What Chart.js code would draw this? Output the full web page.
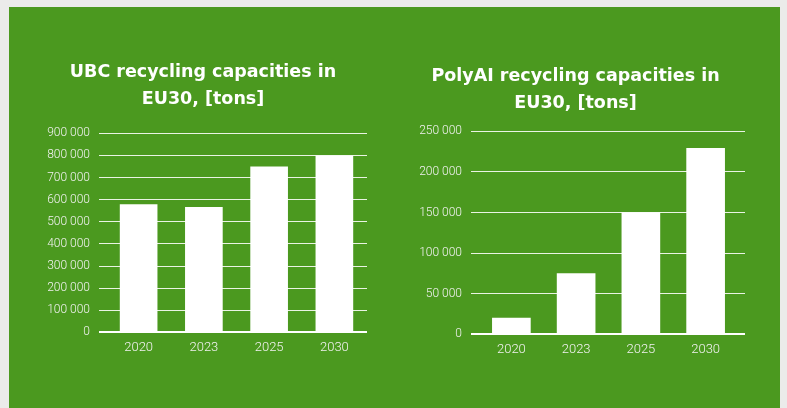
<!DOCTYPE html>
<html>
<head>
<meta charset="utf-8">
<script src="https://cdn.jsdelivr.net/npm/chart.js@4.4.0/dist/chart.umd.min.js"></script>
<style>
  html, body { margin: 0; padding: 0; }
  body { width: 787px; height: 408px; background: #ebebea; position: relative; overflow: hidden; }
  .panel { position: absolute; left: 9px; top: 7px; width: 771px; height: 401px; background: #4b991f; }
  .box { position: absolute; top: 0; height: 408px; }
  #left { left: 0; width: 400px; }
  #right { left: 400px; width: 387px; }
</style>
</head>
<body>
<div class="panel"></div>
<div class="box" id="left"><canvas id="ubc"></canvas></div>
<div class="box" id="right"><canvas id="poly"></canvas></div>
<script>
// data
const years = ['2020', '2023', '2025', '2030'];
const ubcValues = [578000, 565000, 748000, 798000];
const polyValues = [20000, 75000, 150000, 229000];
const ubcTitle = ['UBC recycling capacities in', 'EU30, [tons]'];
const polyTitle = ['PolyAI recycling capacities in', 'EU30, [tons]'];

const WHITE = '#ffffff';
const GRID = 'rgba(255,255,255,0.88)';

// 900000 -> "900 000"
const fmt = v => String(v).replace(/\B(?=(\d{3})+(?!\d))/g, ' ');

const gridLine = {
    color: ctx => ctx.tick && ctx.tick.value === 0 ? WHITE : GRID,
    lineWidth: ctx => ctx.tick && ctx.tick.value === 0 ? 2 : 1
};

function makeChart(id, title, values, o) {
    const scales = {
        x: {
            grid: { display: false, drawTicks: false },
            border: { display: false },
            ticks: { color: '#f2f2f2', padding: 8, font: { family: 'Roboto', size: 13, weight: 300 } }
        },
        y: {
            min: 0, max: o.max,
            afterFit: s => { s.width = o.axisW; },
            grid: Object.assign({ drawTicks: true, tickLength: o.tickL }, gridLine),
            border: { display: false },
            ticks: {
                stepSize: o.step, padding: o.tickPad, color: '#f2f2f2',
                font: { family: 'Roboto', size: 12, weight: 300 },
                callback: v => fmt(v)
            }
        }
    };
    // short tick marks on the right side, so the grid runs past the last bar
    if (o.tickR) {
        scales.y2 = {
            position: 'right', min: 0, max: o.max,
            afterFit: s => { s.width = o.tickR; },
            grid: Object.assign({ drawOnChartArea: false, drawTicks: true, tickLength: o.tickR }, gridLine),
            border: { display: false },
            ticks: { display: false, stepSize: o.step }
        };
    }
    return new Chart(document.getElementById(id), {
        type: 'bar',
        data: {
            labels: years,
            datasets: [{ data: values, backgroundColor: WHITE, borderWidth: 0, barThickness: o.barW }]
        },
        options: {
            responsive: true,
            maintainAspectRatio: false,
            animation: false,
            layout: { padding: o.pad },
            plugins: {
                legend: { display: false },
                tooltip: { enabled: false },
                title: {
                    display: true,
                    text: title,
                    color: WHITE,
                    font: { family: '"DejaVu Sans"', size: 17.5, weight: 'bold', lineHeight: 1.55 },
                    padding: o.titlePad
                }
            },
            scales: scales
        }
    });
}

makeChart('ubc', ubcTitle, ubcValues, {
    max: 900000, step: 100000, barW: 37,
    axisW: 67, tickL: 7, tickPad: 9,
    pad: { left: 39, right: 33, top: 0, bottom: 44 },
    titlePad: { top: 59, bottom: 20 }
});

makeChart('poly', polyTitle, polyValues, {
    max: 250000, step: 50000, barW: 38,
    axisW: 73, tickL: 8, tickPad: 9,
    tickR: 7,
    pad: { left: 6, right: 42, top: 0, bottom: 42 },
    titlePad: { top: 62.5, bottom: 14.5 }
});
</script>
</body>
</html>
